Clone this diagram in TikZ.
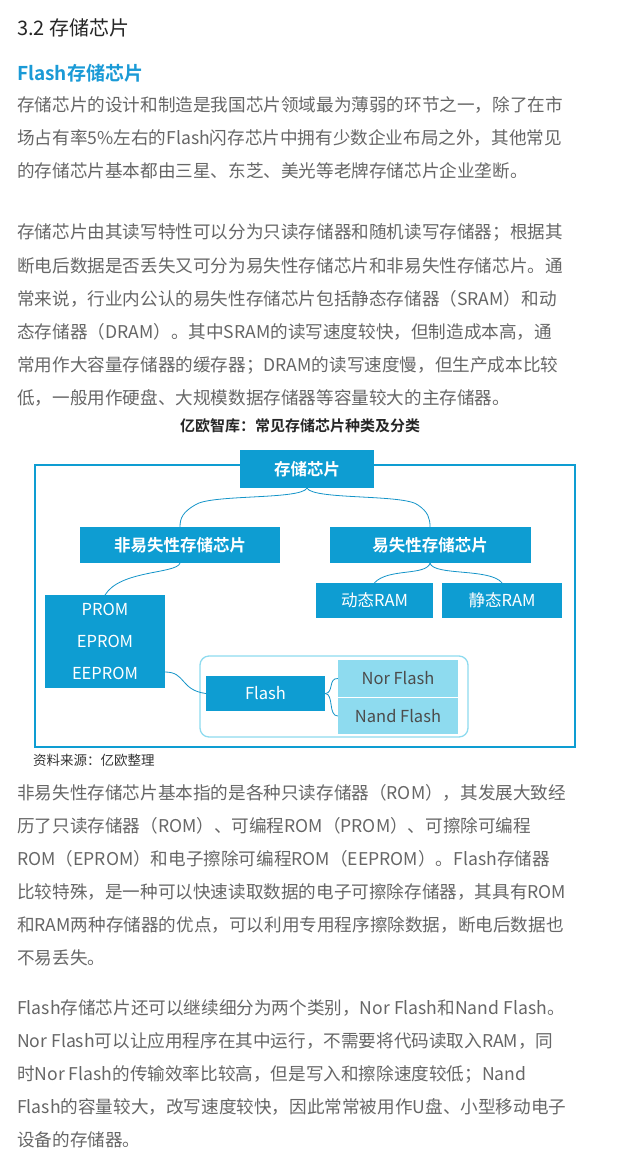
\documentclass[tikz,border=0pt]{standalone}
\usepackage{fontspec}
\setmainfont{Noto Sans CJK SC}
\newfontfamily\cjkb{Noto Sans CJK SC Bold}
\definecolor{txt}{HTML}{666666}
\definecolor{hblue}{HTML}{1A9AD6}
\definecolor{bx}{HTML}{0E9DD2}
\definecolor{lc}{HTML}{8EDBEF}
\definecolor{ln}{HTML}{1494C8}
\begin{document}
\begin{tikzpicture}[x=1pt,y=-1pt,
  para/.style={anchor=west,inner sep=0pt,text=txt,font=\fontsize{17.6}{20}\selectfont},
  bbox/.style={fill=bx,text=white,inner sep=0pt},
  lbox/.style={fill=lc,text=black!70,inner sep=0pt,font=\fontsize{16.5}{18}\selectfont},
  conn/.style={draw=ln,line width=0.8pt}]
\useasboundingbox (0,0) rectangle (622,1165);
\node[anchor=west,inner sep=0pt,text=black!85,font=\fontsize{20}{22}\selectfont] (t1) at (17,28) {3.2 存储芯片};
\node[anchor=west,inner sep=0pt,text=hblue,font=\cjkb\fontsize{19}{22}\selectfont] (t2) at (17,73) {Flash存储芯片};
\foreach \y/\s [count=\i] in {
105/存储芯片的设计和制造是我国芯片领域最为薄弱的环节之一，除了在市,
138/场占有率5\%左右的Flash闪存芯片中拥有少数企业布局之外，其他常见,
171/的存储芯片基本都由三星、东芝、美光等老牌存储芯片企业垄断。,
233/存储芯片由其读写特性可以分为只读存储器和随机读写存储器；根据其,
266/断电后数据是否丢失又可分为易失性存储芯片和非易失性存储芯片。通,
299/常来说，行业内公认的易失性存储芯片包括静态存储器（SRAM）和动,
332/态存储器（DRAM）。其中SRAM的读写速度较快，但制造成本高，通,
365/常用作大容量存储器的缓存器；DRAM的读写速度慢，但生产成本比较,
398/低，一般用作硬盘、大规模数据存储器等容量较大的主存储器。,
793/非易失性存储芯片基本指的是各种只读存储器（ROM），其发展大致经,
826/历了只读存储器（ROM）、可编程ROM（PROM）、可擦除可编程,
859/ROM（EPROM）和电子擦除可编程ROM（EEPROM）。Flash存储器,
892/比较特殊，是一种可以快速读取数据的电子可擦除存储器，其具有ROM,
925/和RAM两种存储器的优点，可以利用专用程序擦除数据，断电后数据也,
958/不易丢失。,
1008/Flash存储芯片还可以继续细分为两个类别，Nor Flash和Nand Flash。,
1041/Nor Flash可以让应用程序在其中运行，不需要将代码读取入RAM，同,
1074/时Nor Flash的传输效率比较高，但是写入和擦除速度较低；Nand,
1107/Flash的容量较大，改写速度较快，因此常常被用作U盘、小型移动电子,
1140/设备的存储器。}
  \node[para] (p\i) at (17,\y) {\s};
\node[inner sep=0pt,text=black!85,font=\cjkb\fontsize{15}{17}\selectfont] (cap) at (300,426) {亿欧智库：常见存储芯片种类及分类};
\node[anchor=west,inner sep=0pt,text=black!80,font=\fontsize{13.5}{15}\selectfont] (src) at (33,760) {资料来源：亿欧整理};
% frame
\draw[draw=bx,line width=1.3pt] (35,465) rectangle (575,747);
\draw[draw=lc,line width=1.3pt,fill=white,rounded corners=9pt] (200,656) rectangle (468,737);
\node[bbox,minimum width=134,minimum height=38,font=\cjkb\fontsize{16.5}{18}\selectfont] (root) at (307,469) {存储芯片};
\node[bbox,minimum width=200,minimum height=36,font=\cjkb\fontsize{16.5}{18}\selectfont] (nv) at (180,545) {非易失性存储芯片};
\node[bbox,minimum width=201,minimum height=36,font=\cjkb\fontsize{16.5}{18}\selectfont] (v) at (430,545) {易失性存储芯片};
\node[bbox,minimum width=120,minimum height=93,font=\fontsize{16.5}{18}\selectfont,align=center] (rom) at (105,641.5) {PROM\\[14pt]EPROM\\[14pt]EEPROM};
\coordinate (eep) at (165,672);
\node[bbox,minimum width=117,minimum height=35,font=\fontsize{16.5}{18}\selectfont] (dram) at (374.5,600.5) {动态RAM};
\node[bbox,minimum width=120,minimum height=35,font=\fontsize{16.5}{18}\selectfont] (sram) at (502,600.5) {静态RAM};
\node[bbox,minimum width=119,minimum height=35,font=\fontsize{16.5}{18}\selectfont] (flash) at (265.5,693.5) {Flash};
\node[lbox,minimum width=120,minimum height=37] (nor) at (398,678.5) {Nor Flash};
\node[lbox,minimum width=120,minimum height=36] (nand) at (398,716) {Nand Flash};
\draw[draw=white,line width=0.8pt] (nor.south west) -- (nor.south east);
% connectors
\draw[conn] (root.south) .. controls (300,500) and (210,494) .. (195,505) .. controls (183,512) and (180,518) .. (nv.north);
\draw[conn] (root.south) .. controls (314,500) and (404,494) .. (418,505) .. controls (428,512) and (430,518) .. (v.north);
\draw[conn] (nv.south) .. controls (176,574) and (120,570) .. (105,595);
\draw[conn] (v.south) .. controls (426,576) and (388,568) .. (dram.north);
\draw[conn] (v.south) .. controls (434,576) and (490,568) .. (sram.north);
\draw[conn] (eep) .. controls (186,672) and (180,690) .. (flash.west);
\draw[conn] (flash.east) .. controls (334,693) and (328,678) .. (nor.west);
\draw[conn] (flash.east) .. controls (334,694) and (328,716) .. (nand.west);
\end{tikzpicture}
\end{document}
